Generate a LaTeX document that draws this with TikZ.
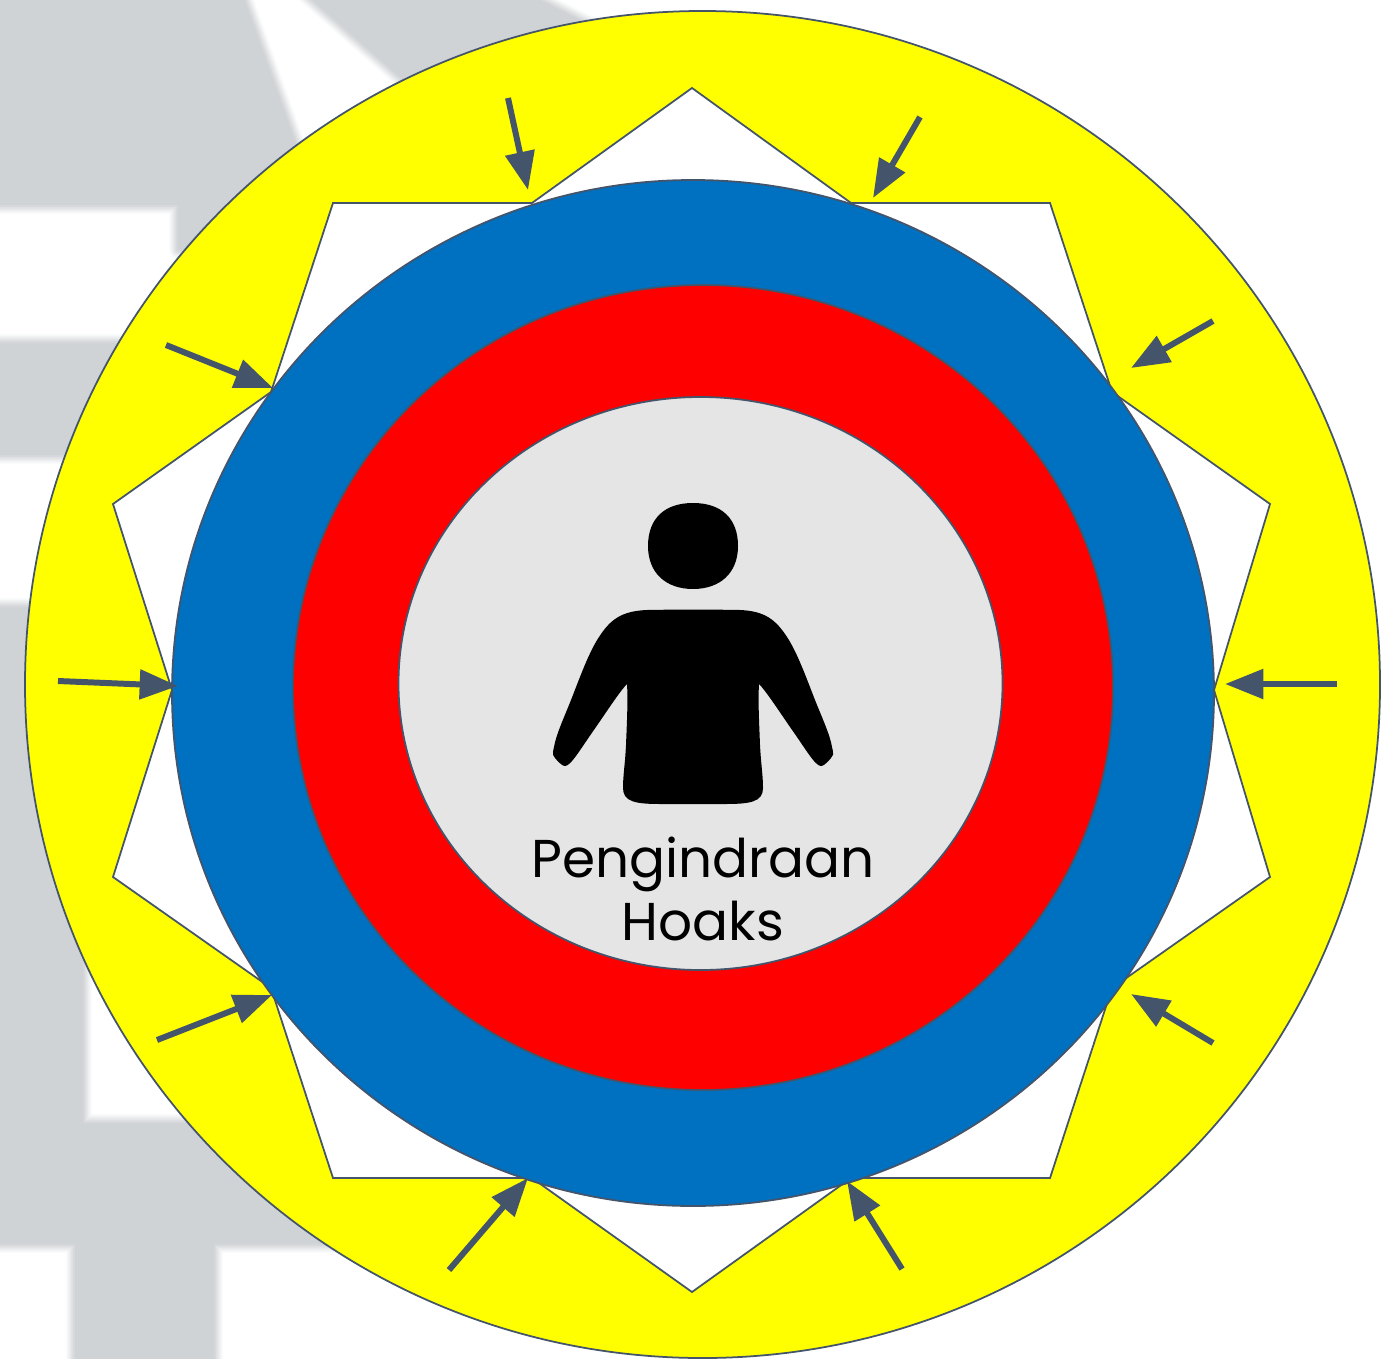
\documentclass[tikz,border=0pt]{standalone}
\usepackage{fontspec}
\setmainfont{Poppins}
\usetikzlibrary{arrows.meta}

\newcommand{\bgshapes}{
  (-30,-30) -- (234,-30) -- (334,250) -- (178,250) -- (178,205) -- (-30,205) -- cycle
  (278,-30) -- (460,130) -- (590,25) -- (530,-5) -- (530,-30) -- cycle
  (-30,343) -- (260,343) -- (260,455) -- (-30,455) -- cycle
  (-30,607) -- (83,607) -- (83,1123) -- (420,1123) -- (420,1244) -- (214,1244)
    -- (214,1390) -- (75,1390) -- (75,1244) -- (-30,1244) -- cycle
}

\begin{document}
\begin{tikzpicture}[x=0.01cm,y=-0.01cm,
    ring/.style={draw=slateline,line width=0.5pt},
    hoaxarrow/.style={draw=slateline,line width=1.7pt,-{Triangle[length=10.9pt,width=8.2pt]}}]
    \definecolor{slateline}{RGB}{68,84,106}
    \definecolor{bggray}{RGB}{208,211,214}
    \definecolor{coregray}{RGB}{229,229,229}
    \definecolor{ringblue}{RGB}{0,112,192}
    \definecolor{ringred}{RGB}{255,0,0}
    \definecolor{ringyellow}{RGB}{255,255,0}
    \clip (0,0) rectangle (1383,1358);
    % Latar kabur
    \foreach \w/\c in {5/12,4/30,3/50,2/70,1/88}
      \draw[bggray!\c,line width=\w pt,line join=round] \bgshapes;
    \fill[bggray] \bgshapes;
    % Lingkaran luar dan bintang
    \draw[ring,fill=ringyellow] (702.5,684.5) ellipse [x radius=677.5,y radius=673.5];
    \draw[ring,fill=white] (692,88) -- (851,203) -- (1050,203) -- (1112,392) -- (1270,504)
      -- (1214,690) -- (1270,877) -- (1112,988) -- (1050,1178) -- (851,1178) -- (692,1292)
      -- (532,1178) -- (333,1178) -- (271,988) -- (113,877) -- (172,690) -- (113,504)
      -- (271,392) -- (333,203) -- (532,203) -- cycle;
    % Cincin
    \draw[ring,fill=ringblue] (693,693) ellipse [x radius=521,y radius=513];
    \draw[ring,fill=ringred] (703,687.5) ellipse [x radius=410,y radius=402.5];
    \draw[ring,fill=coregray] (700.5,683.5) ellipse [x radius=302,y radius=286.5];
    % Panah
    \foreach \n/\xa/\ya/\xb/\yb in {1/508/98/528/190,2/920/117/873/198,3/1213/321/1131/368,
        4/1337/684/1225/684,5/1213/1043/1131/994,6/902/1269/847/1181,7/449/1270/528/1178,
        8/157/1040/272/995,9/58/681/178/686,10/166/345/273/388}{
      \coordinate (from\n) at (\xa,\ya);
      \coordinate (to\n) at (\xb,\yb);
      \draw[hoaxarrow] (from\n) -- (to\n);
    }
    % Orang
    \fill[black] (693,503) .. controls (722,503) and (738,519) .. (738,546)
      .. controls (738,573) and (720,589) .. (693,589)
      .. controls (666,589) and (648,573) .. (648,546)
      .. controls (648,519) and (664,503) .. (693,503) -- cycle;
    \fill[black] (647,610) .. controls (665,609.5) and (721,609.5) .. (740,610)
      .. controls (765,611) and (776,620) .. (787,637)
      .. controls (797,652) and (806,677) .. (815,700)
      .. controls (823,720) and (830,735) .. (832,747)
      .. controls (834,755) and (833,756) .. (831,758)
      .. controls (826,764) and (823,766) .. (821,766)
      .. controls (815,766) and (805,748) .. (790,727)
      .. controls (775,705) and (765,690) .. (759,684)
      .. controls (758,700) and (759,720) .. (760,745)
      .. controls (761,765) and (763,775) .. (763,788)
      .. controls (763,802) and (750,804) .. (725,804) -- (661,804)
      .. controls (636,804) and (623,802) .. (623,788)
      .. controls (623,775) and (625,765) .. (626,745)
      .. controls (627,720) and (628,700) .. (627,684)
      .. controls (621,690) and (611,705) .. (596,727)
      .. controls (581,748) and (571,766) .. (565,766)
      .. controls (563,766) and (560,764) .. (555,758)
      .. controls (553,756) and (552,755) .. (554,747)
      .. controls (556,735) and (563,720) .. (571,700)
      .. controls (580,677) and (589,652) .. (599,637)
      .. controls (610,620) and (621,611) .. (647,610) -- cycle;
    \node[align=center,inner sep=0pt,font=\fontsize{15.15}{17.9}\selectfont] (sensing) at (703,889)
      {Pengindraan\\Hoaks};
  \end{tikzpicture}
\end{document}
